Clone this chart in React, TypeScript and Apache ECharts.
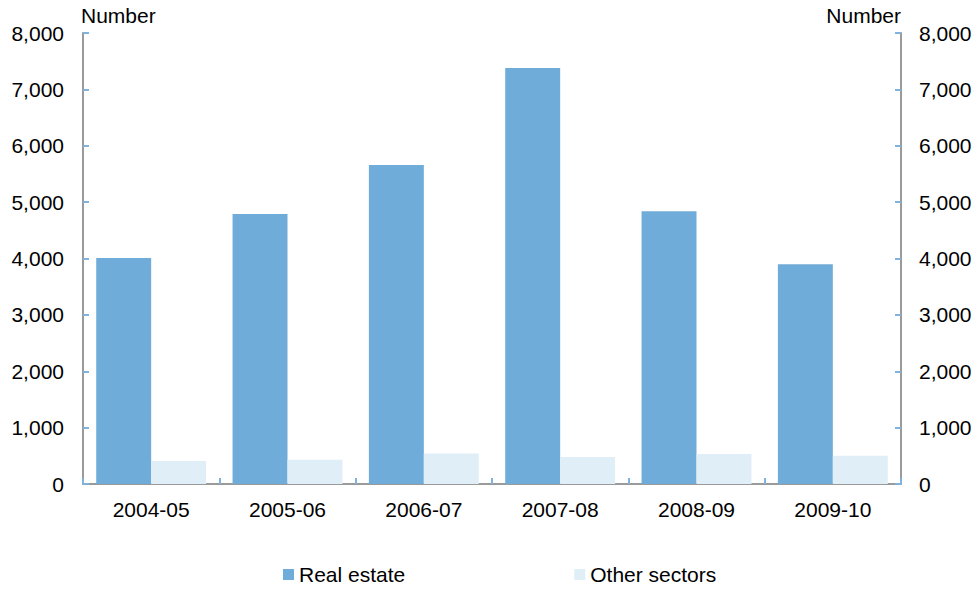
import React, { useEffect, useRef } from "react";
import * as echarts from "echarts";

const categories = ["2004-05", "2005-06", "2006-07", "2007-08", "2008-09", "2009-10"];
const realEstate = [4010, 4790, 5660, 7380, 4840, 3900];
const otherSectors = [410, 430, 540, 480, 530, 500];
const seriesNames = ["Real estate", "Other sectors"];
const axisName = "Number";

const FONT = "'Liberation Sans', Arial, sans-serif";
const TICK_COLOR = "#7fb2dd";
const AXIS_COLOR = "#9a9a9a";
const FS = 21;

export default function App() {
  const ref = useRef<HTMLDivElement>(null);
  useEffect(() => {
    if (!ref.current) return;
    const chart = echarts.init(ref.current, undefined, { renderer: "svg" });
    const yAxisBase = (pos: "left" | "right") => ({
      type: "value" as const,
      position: pos,
      min: 0,
      max: 8000,
      interval: 1000,
      name: axisName,
      nameLocation: "end" as const,
      nameGap: 7,
      nameTextStyle: {
        fontFamily: FONT,
        fontSize: FS,
        color: "#000",
        align: pos === "left" ? "left" : "right",
        verticalAlign: "bottom",
        padding: pos === "left" ? [0, 0, 0, -2] : [0, 0, 0, 0],
      },
      axisLine: { show: true, lineStyle: { color: AXIS_COLOR, width: 2 } },
      axisTick: { show: true, inside: true, length: 6, lineStyle: { color: TICK_COLOR, width: 2 } },
      axisLabel: {
        fontFamily: FONT,
        fontSize: FS,
        color: "#000",
        margin: pos === "left" ? 19 : 18,
        formatter: (v: number) => v.toLocaleString("en-US"),
      },
      splitLine: { show: false },
    });
    chart.setOption({
      animation: false,
      grid: { left: 83, right: 76, top: 33, bottom: 105, containLabel: false },
      legend: {
        bottom: -1,
        left: 278,
        itemWidth: 11,
        itemHeight: 11,
        itemGap: 169,
        icon: "rect",
        textStyle: { fontFamily: FONT, fontSize: FS, color: "#000" },
        data: seriesNames,
      },
      xAxis: {
        type: "category",
        data: categories,
        axisLine: { show: true, lineStyle: { color: AXIS_COLOR, width: 2 } },
        axisTick: { show: true, inside: true, length: 6, alignWithLabel: false, lineStyle: { color: TICK_COLOR, width: 2 } },
        axisLabel: { fontFamily: FONT, fontSize: FS, color: "#000", margin: 15 },
        splitLine: { show: false },
      },
      yAxis: [yAxisBase("left"), yAxisBase("right")],
      series: [
        {
          name: seriesNames[0],
          type: "bar",
          data: realEstate,
          barWidth: "40.3%",
          barGap: "0%",
          itemStyle: { color: "#70acd9" },
        },
        {
          name: seriesNames[1],
          type: "bar",
          data: otherSectors,
          barWidth: "40.3%",
          itemStyle: { color: "#e0eef8" },
        },
      ],
    });
    return () => chart.dispose();
  }, []);
  return <div ref={ref} style={{ width: 977, height: 589, position: "absolute", left: 0, top: 0 }} />;
}
